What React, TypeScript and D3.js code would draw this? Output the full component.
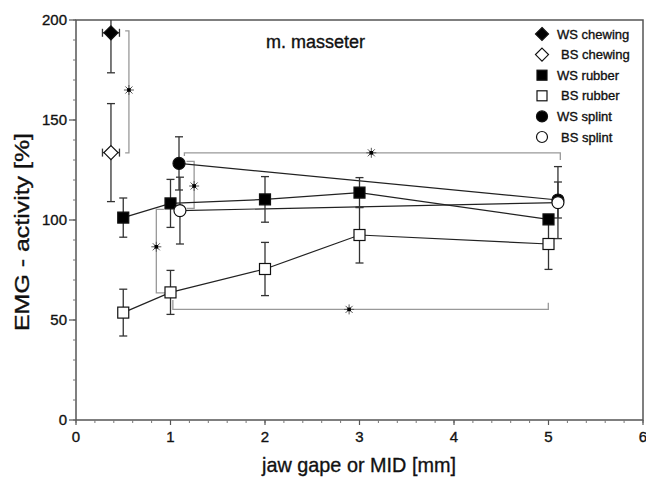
import React from 'react';
import * as d3 from 'd3';

// values
const wsChewingX = [0.37];
const wsChewingY = [193.6];
const wsChewingErr = [20];
const bsChewingX = [0.37];
const bsChewingY = [133.7];
const bsChewingErr = [24.5];
const chewingXErr = 0.09;

const rubberX = [0.5, 1.0, 2.0, 3.0, 5.0];
const wsRubberY = [101.2, 108.3, 110.3, 113.7, 100.3];
const wsRubberErr = [9.8, 12, 11.4, 7.5, 2];
const bsRubberY = [53.7, 63.8, 75.5, 92.5, 88];
const bsRubberErr = [11.7, 11, 13.3, 14, 12.7];

const wsSplintX = [1.09, 5.1];
const wsSplintY = [128.3, 110];
const wsSplintErr = [13.3, 9];
const bsSplintX = [1.1, 5.1];
const bsSplintY = [104.7, 108.7];
const bsSplintErr = [16.7, 18];

const xTicks = [0, 1, 2, 3, 4, 5, 6];
const yTicks = [0, 50, 100, 150, 200];

const legendLabels = ['WS chewing', 'BS chewing', 'WS rubber', 'BS rubber', 'WS splint', 'BS splint'];

// significance brackets (data units) with their star positions
const brackets: { pts: [number, number][]; star: [number, number] }[] = [
  { pts: [[0.52, 194.6], [0.56, 194.6], [0.56, 133.6], [0.52, 133.6]], star: [0.56, 165] },
  { pts: [[1.147, 132], [1.147, 133.6], [5.125, 133.6], [5.125, 130]], star: [3.125, 133.6] },
  { pts: [[1.17, 129.3], [1.25, 129.3], [1.25, 105.8], [1.17, 105.8]], star: [1.25, 117] },
  { pts: [[0.93, 105.3], [0.85, 105.3], [0.85, 63.6], [0.96, 63.6]], star: [0.85, 86.6] },
  { pts: [[1.025, 60], [1.025, 55.3], [4.998, 55.3], [4.998, 58.6]], star: [2.89, 55.3] },
];

const W = 646;
const H = 478;
const margin = { top: 20, right: 3, bottom: 58, left: 76 };
const font = "'Liberation Sans', Arial, sans-serif";

type Shape = 'diamond' | 'square' | 'circle';

function Marker({ x, y, shape, filled, size = 11 }: { x: number; y: number; shape: Shape; filled: boolean; size?: number }) {
  const fill = filled ? '#000' : '#fff';
  const s = size / 2;
  if (shape === 'diamond') {
    const d = s + 1.5;
    return <path d={`M${x},${y - d}L${x + d},${y}L${x},${y + d}L${x - d},${y}Z`} fill={fill} stroke="#111" strokeWidth={1.2} />;
  }
  if (shape === 'square') {
    return <rect x={x - s} y={y - s} width={size} height={size} fill={fill} stroke="#111" strokeWidth={1.2} />;
  }
  return <circle cx={x} cy={y} r={s + 0.5} fill={fill} stroke="#111" strokeWidth={1.2} />;
}

function Star({ x, y }: { x: number; y: number }) {
  const r = 5;
  const angles = [0, 45, 90, 135];
  return (
    <g>
      {angles.map(a => {
        const rad = (a * Math.PI) / 180;
        const dx = Math.cos(rad) * r;
        const dy = Math.sin(rad) * r;
        return <line key={a} x1={x - dx} y1={y - dy} x2={x + dx} y2={y + dy} stroke="#555" strokeWidth={1} />;
      })}
      <rect x={x - 1.8} y={y - 1.8} width={3.6} height={3.6} fill="#000" />
    </g>
  );
}

export default function App() {
  const x = d3.scaleLinear().domain([0, 6]).range([margin.left, W - margin.right]);
  const y = d3.scaleLinear().domain([0, 200]).range([H - margin.bottom, margin.top]);
  const line = d3.line<[number, number]>().x(d => x(d[0])).y(d => y(d[1]));

  const series = [
    { xs: wsChewingX, ys: wsChewingY, err: wsChewingErr, shape: 'diamond' as Shape, filled: true, xerr: chewingXErr },
    { xs: bsChewingX, ys: bsChewingY, err: bsChewingErr, shape: 'diamond' as Shape, filled: false, xerr: chewingXErr },
    { xs: rubberX, ys: wsRubberY, err: wsRubberErr, shape: 'square' as Shape, filled: true, xerr: 0 },
    { xs: rubberX, ys: bsRubberY, err: bsRubberErr, shape: 'square' as Shape, filled: false, xerr: 0 },
    { xs: wsSplintX, ys: wsSplintY, err: wsSplintErr, shape: 'circle' as Shape, filled: true, xerr: 0 },
    { xs: bsSplintX, ys: bsSplintY, err: bsSplintErr, shape: 'circle' as Shape, filled: false, xerr: 0 },
  ];

  const minorX = d3.range(0, 6.001, 0.2);
  const minorY = d3.range(0, 200.001, 10);
  const cap = 4;
  const heavy = { stroke: '#111', strokeWidth: 0.35 };

  return (
    <svg width={W} height={H} style={{ position: 'absolute', left: 0, top: 0, background: '#fff' }} fontFamily={font}>
      {/* frame */}
      <rect x={x(0)} y={y(200)} width={x(6) - x(0)} height={y(0) - y(200)} fill="none" stroke="#555" strokeWidth={1.5} />

      {/* y ticks */}
      {minorY.map(v => (
        <line key={'my' + v} x1={x(0) - 3} x2={x(0)} y1={y(v)} y2={y(v)} stroke="#777" strokeWidth={1} />
      ))}
      {yTicks.map(v => (
        <g key={'y' + v}>
          <line x1={x(0) - 7} x2={x(0)} y1={y(v)} y2={y(v)} stroke="#555" strokeWidth={1.2} />
          <text x={x(0) - 9} y={y(v)} dy="0.35em" textAnchor="end" fontSize={15} fill="#111" {...heavy}>{v}</text>
        </g>
      ))}

      {/* x ticks */}
      {minorX.map(v => (
        <line key={'mx' + v} x1={x(v)} x2={x(v)} y1={y(0)} y2={y(0) + 3} stroke="#777" strokeWidth={1} />
      ))}
      {xTicks.map(v => (
        <g key={'x' + v}>
          <line x1={x(v)} x2={x(v)} y1={y(0)} y2={y(0) + 5} stroke="#555" strokeWidth={1.2} />
          <text x={x(v)} y={y(0) + 22} textAnchor="middle" fontSize={15} fill="#111" {...heavy}>{v}</text>
        </g>
      ))}

      {/* axis titles */}
      <text x={359} y={472} textAnchor="middle" fontSize={21} fill="#111" textLength={194} lengthAdjust="spacingAndGlyphs" {...heavy}>jaw gape or MID [mm]</text>
      <text transform={`translate(29,232) rotate(-90)`} textAnchor="middle" fontSize={21} fill="#111" textLength={198} lengthAdjust="spacingAndGlyphs" {...heavy}>EMG - activity [%]</text>
      <text x={266} y={48} fontSize={18} fill="#111" {...heavy}>m. masseter</text>

      {/* significance brackets */}
      {brackets.map((b, i) => (
        <path key={'b' + i} d={line(b.pts) || ''} fill="none" stroke="#999" strokeWidth={1.3} />
      ))}

      {/* connecting lines */}
      {series.filter(s => s.xs.length > 1).map((s, i) => (
        <path key={'l' + i} d={line(s.xs.map((v, j) => [v, s.ys[j]] as [number, number])) || ''} fill="none" stroke="#222" strokeWidth={1.2} />
      ))}

      {/* error bars */}
      {series.map((s, i) => (
        <g key={'e' + i} stroke="#333" strokeWidth={1.3}>
          {s.xs.map((xv, j) => {
            const top = s.ys[j] + s.err[j];
            const bot = s.ys[j] - s.err[j];
            const px = x(xv);
            return (
              <g key={j}>
                <line x1={px} x2={px} y1={y(Math.min(top, 200))} y2={y(bot)} />
                {top <= 200 && <line x1={px - cap} x2={px + cap} y1={y(top)} y2={y(top)} />}
                <line x1={px - cap} x2={px + cap} y1={y(bot)} y2={y(bot)} />
                {s.xerr > 0 && (
                  <g>
                    <line x1={x(xv - s.xerr)} x2={x(xv + s.xerr)} y1={y(s.ys[j])} y2={y(s.ys[j])} />
                    <line x1={x(xv - s.xerr)} x2={x(xv - s.xerr)} y1={y(s.ys[j]) - cap} y2={y(s.ys[j]) + cap} />
                    <line x1={x(xv + s.xerr)} x2={x(xv + s.xerr)} y1={y(s.ys[j]) - cap} y2={y(s.ys[j]) + cap} />
                  </g>
                )}
              </g>
            );
          })}
        </g>
      ))}

      {/* markers */}
      {series.map((s, i) => (
        <g key={'m' + i}>
          {s.xs.map((xv, j) => (
            <Marker key={j} x={x(xv)} y={y(s.ys[j])} shape={s.shape} filled={s.filled} />
          ))}
        </g>
      ))}

      {/* stars */}
      {brackets.map((b, i) => (
        <Star key={'s' + i} x={x(b.star[0])} y={y(b.star[1])} />
      ))}

      {/* legend */}
      {series.map((s, i) => {
        const ly = 34 + i * 20.6;
        return (
          <g key={'lg' + i}>
            <Marker x={542} y={ly} shape={s.shape} filled={s.filled} size={10} />
            <text x={s.filled ? 557 : 561} y={ly} dy="0.35em" fontSize={13} fill="#111" {...heavy}>{legendLabels[i]}</text>
          </g>
        );
      })}
    </svg>
  );
}
